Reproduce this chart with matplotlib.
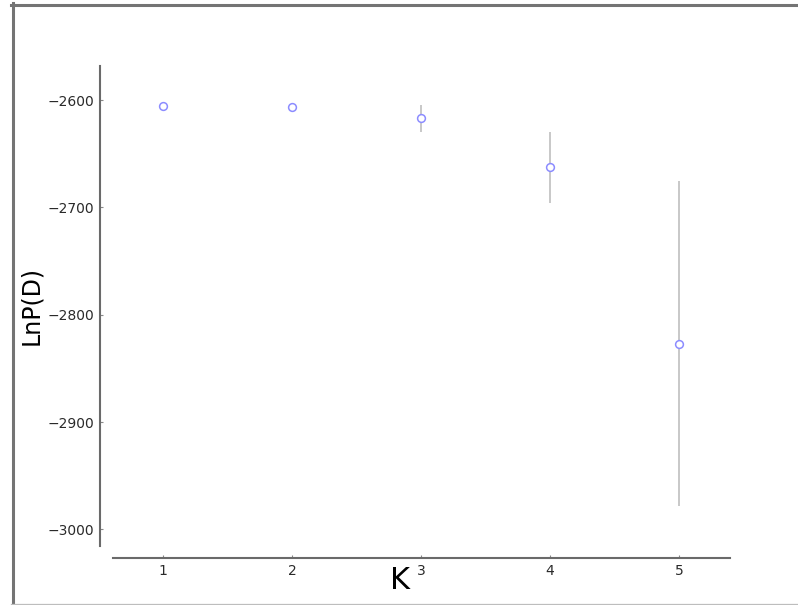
import matplotlib
matplotlib.use("Agg")
import matplotlib.pyplot as plt
from matplotlib.lines import Line2D

# Mean log-likelihood per K with standard deviation across runs
k_values = [1, 2, 3, 4, 5]
lnp_mean = [-2605.6, -2606.8, -2617.1, -2662.7, -2826.9]
lnp_sd = [0.9, 1.2, 12.4, 33.1, 151.0]
y_ticks = [-2600, -2700, -2800, -2900, -3000]

W, H = 798, 605
fig = plt.figure(figsize=(W / 100, H / 100), dpi=100)
fig.patch.set_facecolor("white")

def fx(px):
    return px / W

def fy(py):
    return 1 - py / H

ax = fig.add_axes([fx(113), fy(546), fx(730) - fx(113), fy(66) - fy(546)])

ax.errorbar(k_values, lnp_mean, yerr=lnp_sd, fmt="none", ecolor="#c8c8c8",
            elinewidth=1.4, capsize=0, zorder=2)
ax.plot(k_values, lnp_mean, linestyle="none", marker="o", markersize=5.6,
        markerfacecolor="white", markeredgecolor="#8c8cff",
        markeredgewidth=1.1, zorder=3)

ax.set_xlim(0.612, 5.395)
ax.set_ylim(-3015.5, -2568.3)
ax.set_xticks(k_values)
ax.set_yticks(y_ticks)
ax.set_yticklabels([f"\u2212{abs(v)}" for v in y_ticks])

for side in ("top", "right"):
    ax.spines[side].set_visible(False)
ax.spines["left"].set_position(("outward", 13 * 0.72))
ax.spines["bottom"].set_position(("outward", 12 * 0.72))
for side in ("left", "bottom"):
    ax.spines[side].set_color("#6a6a6a")
    ax.spines[side].set_linewidth(1.5)

ax.tick_params(axis="both", direction="in", length=2.5, width=0.8,
               color="#888888", labelsize=10, labelcolor="#2a2a2a",
               top=False, right=False, pad=4)

ax.set_ylabel("LnP(D)", fontsize=17, color="black")
ax.yaxis.set_label_coords((43 - 113) / 617, 0.502)
ax.set_xlabel("K", fontsize=22, color="black")
ax.xaxis.set_label_coords((400 - 113) / 617, (546 - 566) / 480)

# Surrounding window frame
fig.add_artist(Line2D([fx(12.5), fx(12.5)], [fy(3), fy(605)], color="#747474",
                      linewidth=2.2, transform=fig.transFigure))
fig.add_artist(Line2D([fx(11), fx(798)], [fy(4.5), fy(4.5)], color="#747474",
                      linewidth=2.2, transform=fig.transFigure))
fig.add_artist(Line2D([fx(11), fx(798)], [fy(604.3), fy(604.3)], color="#bdbdbd",
                      linewidth=0.9, transform=fig.transFigure))

fig.savefig("out.png", dpi=100, facecolor="white")
